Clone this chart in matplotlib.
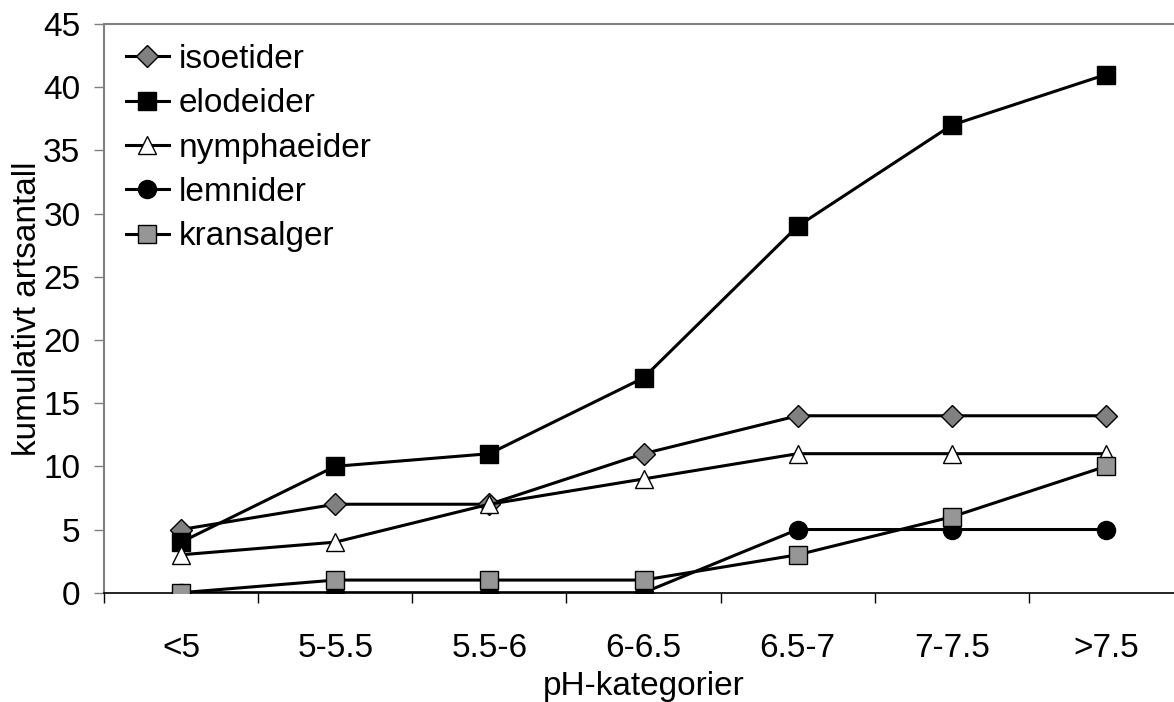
import matplotlib.pyplot as plt
import numpy as np

plt.rcParams['font.family'] = ['Liberation Sans', 'DejaVu Sans']

categories = ['<5', '5-5.5', '5.5-6', '6-6.5', '6.5-7', '7-7.5', '>7.5']

isoetider = [5, 7, 7, 11, 14, 14, 14]
elodeider = [4, 10, 11, 17, 29, 37, 41]
nymphaeider = [3, 4, 7, 9, 11, 11, 11]
lemnider = [0, 0, 0, 0, 5, 5, 5]
kransalger = [0, 1, 1, 1, 3, 6, 10]

FS = 24

fig = plt.figure(figsize=(11.74, 7.02), dpi=100)
ax = fig.add_axes([0.0886, 0.1557, 0.9191, 0.8101])

x = np.arange(len(categories))
lw = 2.2

ax.plot(x, isoetider, color='black', lw=lw, marker='D', ms=11,
        mfc='#808080', mec='black', mew=1.0, label='isoetider', zorder=3)
ax.plot(x, elodeider, color='black', lw=lw, marker='s', ms=13,
        mfc='black', mec='black', label='elodeider', zorder=3)
ax.plot(x, nymphaeider, color='black', lw=lw, marker='^', ms=13,
        mfc='white', mec='black', mew=1.0, label='nymphaeider', zorder=3)
ax.plot(x, lemnider, color='black', lw=lw, marker='o', ms=13,
        mfc='black', mec='black', label='lemnider', zorder=3)
ax.plot(x, kransalger, color='black', lw=lw, marker='s', ms=12.5,
        mfc='#969696', mec='black', mew=1.0, label='kransalger', zorder=4)

ax.set_xlim(-0.5, len(categories) - 0.5)
ax.set_ylim(0, 45)
ax.set_yticks(np.arange(0, 46, 5))

# category labels centred, tick marks between categories
ax.set_xticks(x)
ax.set_xticklabels(categories)
ax.set_xticks(np.arange(-0.5, len(categories), 1), minor=True)
ax.tick_params(axis='x', which='major', length=0, pad=29, labelsize=FS)
ax.tick_params(axis='x', which='minor', length=7, width=1, color='black')
ax.tick_params(axis='y', length=7, width=1, color='#808080', labelsize=FS, pad=10)

ax.spines['right'].set_visible(False)
ax.spines['top'].set_color('#808080')
ax.spines['top'].set_linewidth(1.5)
ax.spines['left'].set_color('#808080')
ax.spines['left'].set_linewidth(1.5)
ax.spines['bottom'].set_color('black')
ax.spines['bottom'].set_linewidth(1.2)

ax.set_xlabel('pH-kategorier', fontsize=FS, labelpad=5)
ax.set_ylabel('kumulativt artsantall', fontsize=FS, labelpad=0)

ax.legend(loc='upper left', frameon=False, fontsize=FS, handlelength=1.3,
          handletextpad=0.3, labelspacing=0.4, borderaxespad=0.0,
          borderpad=0.0, bbox_to_anchor=(0.02, 0.965))

fig.savefig('out.png', dpi=100)
